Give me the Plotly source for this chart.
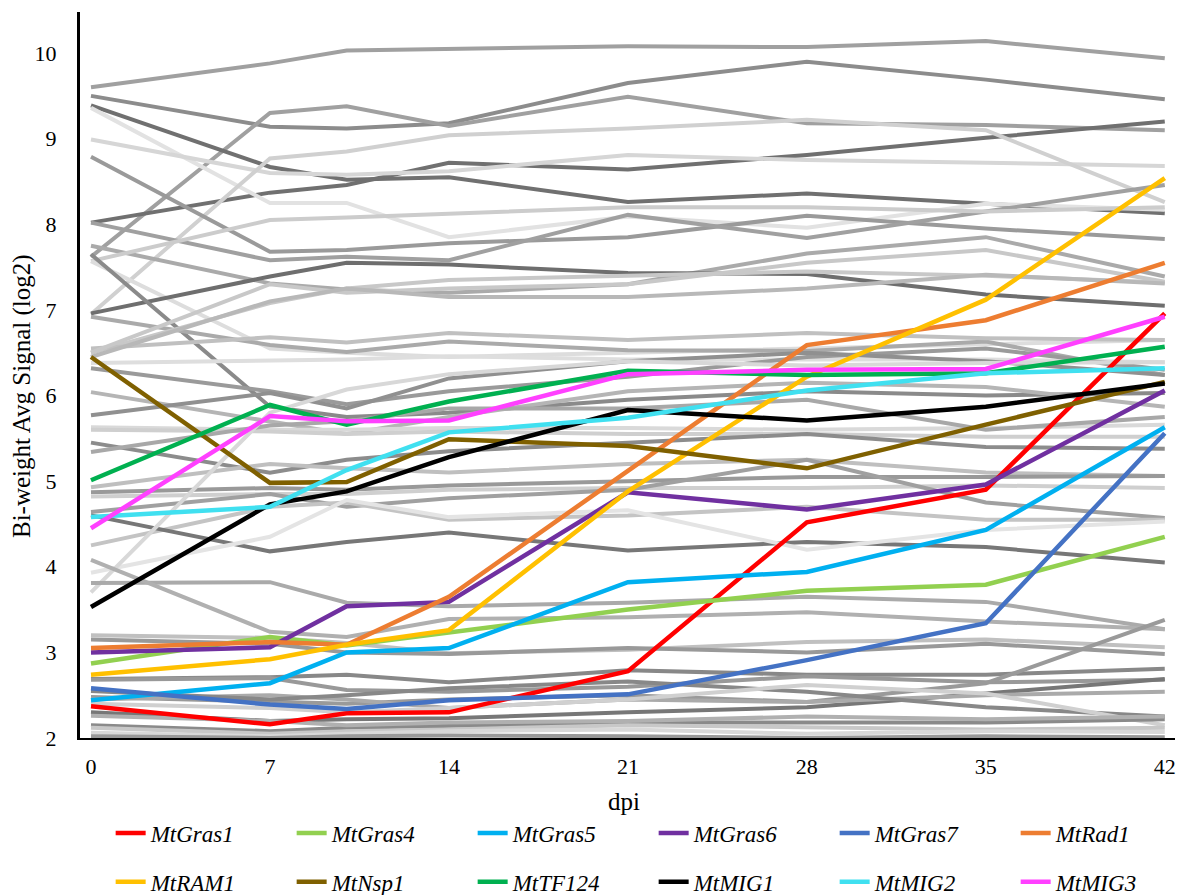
import plotly.graph_objects as go

dpi = [0, 7, 10, 14, 21, 28, 35, 42]
x_ticks = [0, 7, 14, 21, 28, 35, 42]
y_ticks = [2, 3, 4, 5, 6, 7, 8, 9, 10]

genes = ["MtGras1", "MtGras4", "MtGras5", "MtGras6", "MtGras7", "MtRad1",
         "MtRAM1", "MtNsp1", "MtTF124", "MtMIG1", "MtMIG2", "MtMIG3"]
MtGras1 = [2.37, 2.16, 2.29, 2.30, 2.78, 4.52, 4.90, 6.96]
MtGras4 = [2.87, 3.18, 3.08, 3.23, 3.50, 3.72, 3.79, 4.35]
MtGras5 = [2.44, 2.64, 3.00, 3.05, 3.82, 3.94, 4.43, 5.63]
MtGras6 = [3.00, 3.06, 3.54, 3.59, 4.87, 4.67, 4.96, 6.06]
MtGras7 = [2.58, 2.39, 2.34, 2.44, 2.51, 2.91, 3.34, 5.56]
MtRad1 = [3.05, 3.12, 3.09, 3.65, 5.12, 6.59, 6.88, 7.55]
MtRAM1 = [2.74, 2.92, 3.09, 3.26, 4.88, 6.22, 7.12, 8.54]
MtNsp1 = [6.45, 4.98, 4.99, 5.49, 5.41, 5.15, 5.66, 6.16]
MtTF124 = [5.01, 5.89, 5.66, 5.93, 6.29, 6.24, 6.26, 6.57]
MtMIG1 = [3.53, 4.73, 4.88, 5.28, 5.83, 5.71, 5.87, 6.14]
MtMIG2 = [4.58, 4.70, 5.13, 5.57, 5.74, 6.06, 6.26, 6.32]
MtMIG3 = [4.45, 5.76, 5.70, 5.71, 6.25, 6.30, 6.31, 6.92]
gene_values = [MtGras1, MtGras4, MtGras5, MtGras6, MtGras7, MtRad1,
               MtRAM1, MtNsp1, MtTF124, MtMIG1, MtMIG2, MtMIG3]
gene_colors = ["#FF0000", "#92D050", "#00B0F0", "#7030A0", "#4472C4", "#ED7D31",
               "#FFC000", "#7F6000", "#00B050", "#000000", "#40E0F0", "#FF40FF"]

# background (other GRAS genes) profiles, grey
gray_values = [
    [9.60, 9.88, 10.03, 10.05, 10.08, 10.07, 10.14, 9.94],
    [9.50, 9.14, 9.12, 9.18, 9.65, 9.90, 9.69, 9.46],
    [7.62, 9.30, 9.38, 9.15, 9.49, 9.18, 9.16, 9.10],
    [9.39, 8.67, 8.52, 8.55, 8.26, 8.36, 8.24, 8.13],
    [8.02, 8.37, 8.46, 8.72, 8.64, 8.81, 9.01, 9.20],
    [9.36, 8.25, 8.25, 7.85, 8.09, 7.96, 8.24, 8.17],
    [8.99, 8.60, 8.58, 8.62, 8.81, 8.75, 8.72, 8.68],
    [6.95, 8.77, 8.85, 9.04, 9.12, 9.22, 9.10, 8.26],
    [8.79, 7.68, 7.70, 7.78, 7.85, 8.10, 7.95, 7.83],
    [8.02, 7.58, 7.62, 7.58, 8.11, 7.84, 8.15, 8.46],
    [7.75, 7.31, 7.24, 7.20, 7.30, 7.66, 7.85, 7.39],
    [7.57, 8.05, 8.08, 8.12, 8.20, 8.20, 8.15, 8.20],
    [7.57, 6.55, 6.50, 6.45, 6.50, 6.55, 6.60, 6.65],
    [6.96, 7.39, 7.55, 7.53, 7.43, 7.42, 7.18, 7.05],
    [7.65, 5.87, 5.75, 5.80, 5.95, 6.05, 6.00, 6.03],
    [6.92, 6.59, 6.51, 6.63, 6.53, 6.52, 6.63, 6.24],
    [6.50, 7.08, 7.25, 7.35, 7.40, 7.45, 7.40, 7.32],
    [6.55, 6.68, 6.62, 6.73, 6.65, 6.73, 6.67, 6.65],
    [6.38, 6.40, 6.42, 6.46, 6.42, 6.42, 6.42, 6.39],
    [6.32, 6.05, 5.90, 6.05, 6.22, 6.45, 6.55, 6.30],
    [6.04, 5.70, 5.55, 5.75, 6.05, 6.15, 6.10, 5.87],
    [5.77, 6.03, 5.85, 6.20, 6.40, 6.50, 6.40, 6.24],
    [5.63, 5.60, 5.60, 5.62, 5.62, 5.60, 5.62, 5.66],
    [5.60, 5.58, 5.55, 5.58, 5.55, 5.55, 5.52, 5.52],
    [5.45, 5.10, 5.25, 5.35, 5.45, 5.55, 5.40, 5.38],
    [5.34, 5.65, 5.70, 5.85, 5.85, 5.95, 5.60, 5.75],
    [4.93, 5.20, 5.15, 5.10, 5.20, 5.25, 5.10, 5.06],
    [4.87, 4.92, 4.90, 4.95, 5.00, 5.05, 5.05, 5.06],
    [4.82, 4.85, 4.85, 4.90, 4.92, 4.92, 4.95, 4.92],
    [4.64, 4.85, 4.70, 4.80, 4.90, 5.25, 4.75, 4.57],
    [4.25, 4.70, 4.75, 4.55, 4.60, 4.70, 4.55, 4.55],
    [6.50, 7.30, 7.20, 7.25, 7.30, 7.55, 7.70, 7.33],
    [6.45, 7.10, 7.25, 7.15, 7.15, 7.25, 7.41, 7.31],
    [4.60, 4.18, 4.29, 4.40, 4.19, 4.29, 4.23, 4.05],
    [3.93, 4.35, 4.78, 4.58, 4.66, 4.20, 4.43, 4.53],
    [3.70, 5.80, 6.07, 6.25, 6.40, 6.35, 6.38, 6.39],
    [3.81, 3.82, 3.58, 3.54, 3.58, 3.65, 3.59, 3.27],
    [4.08, 3.24, 3.18, 3.39, 3.41, 3.47, 3.36, 3.27],
    [3.20, 3.17, 3.11, 2.99, 3.03, 3.12, 3.15, 3.06],
    [3.15, 3.10, 3.00, 2.98, 3.05, 3.00, 3.10, 2.98],
    [2.69, 2.71, 2.74, 2.65, 2.79, 2.74, 2.74, 2.81],
    [2.68, 2.70, 2.56, 2.54, 2.60, 2.72, 2.65, 2.68],
    [2.48, 2.42, 2.40, 2.45, 2.50, 2.42, 2.64, 3.38],
    [2.30, 2.20, 2.22, 2.23, 2.30, 2.36, 2.52, 2.69],
    [2.45, 2.50, 2.45, 2.35, 2.45, 2.42, 2.50, 2.54],
    [2.55, 2.45, 2.50, 2.58, 2.66, 2.54, 2.36, 2.25],
    [2.40, 2.35, 2.30, 2.35, 2.45, 2.62, 2.52, 2.15],
    [2.15, 2.08, 2.12, 2.14, 2.18, 2.18, 2.18, 2.22],
    [2.12, 2.05, 2.08, 2.10, 2.15, 2.12, 2.10, 2.12],
    [2.06, 2.02, 2.05, 2.08, 2.10, 2.05, 2.08, 2.07],
    [2.02, 2.00, 2.02, 2.03, 2.02, 2.00, 2.02, 2.01],
    [2.26, 2.20, 2.15, 2.18, 2.20, 2.25, 2.22, 2.25],
]
gray_colors = [
    "#a0a0a0", "#8c8c8c", "#a0a0a0", "#707070", "#707070", "#e2e2e2", "#d6d6d6",
    "#d0d0d0", "#9a9a9a", "#a0a0a0", "#aaaaaa", "#cccccc", "#dddddd", "#6e6e6e",
    "#8a8a8a", "#aaaaaa", "#c8c8c8", "#c0c0c0", "#dedede", "#9a9a9a", "#b5b5b5",
    "#909090", "#d9d9d9", "#cfcfcf", "#8c8c8c", "#a8a8a8", "#bfbfbf", "#999999",
    "#cfcfcf", "#a0a0a0", "#c4c4c4", "#c8c8c8", "#b8b8b8", "#777777", "#e4e4e4",
    "#d8d8d8", "#aaaaaa", "#b0b0b0", "#c0c0c0", "#999999", "#888888", "#999999",
    "#9a9a9a", "#777777", "#aaaaaa", "#888888", "#d0d0d0", "#8a8a8a", "#c8c8c8",
    "#d8d8d8", "#999999", "#b0b0b0",
]

FONT = "Liberation Serif, Times New Roman, serif"

fig = go.Figure()
for vals, col in zip(gray_values, gray_colors):
    fig.add_trace(go.Scatter(x=dpi, y=vals, mode="lines",
                             line=dict(color=col, width=4),
                             showlegend=False, hoverinfo="skip"))

for i, (name, vals, col) in enumerate(zip(genes, gene_values, gene_colors)):
    fig.add_trace(go.Scatter(x=dpi, y=vals, mode="lines", name=name,
                             line=dict(color=col, width=4.5),
                             legend="legend" if i < 6 else "legend2"))

leg_common = dict(orientation="h", xanchor="left", yanchor="middle",
                  entrywidth=136, entrywidthmode="pixels",
                  font=dict(family=FONT, size=23, color="black", style="italic"),
                  bgcolor="rgba(0,0,0,0)", itemwidth=30)

fig.update_layout(
    width=1179, height=895,
    margin=dict(l=80, r=4, t=12, b=157, autoexpand=False),
    paper_bgcolor="white", plot_bgcolor="white",
    font=dict(family=FONT, size=22, color="black"),
    xaxis=dict(range=[-0.43, 42.4], tickvals=x_ticks, ticktext=[str(v) for v in x_ticks],
               showgrid=False, zeroline=False, showline=True, linecolor="black",
               linewidth=2, ticks="", ticklabelstandoff=8,
               tickfont=dict(family=FONT, size=22, color="black")),
    yaxis=dict(range=[2, 10.48], tickvals=y_ticks, ticktext=[str(v) for v in y_ticks],
               showgrid=False, zeroline=False, showline=True, linecolor="black",
               linewidth=3, ticks="", ticklabelstandoff=16,
               tickfont=dict(family=FONT, size=22, color="black")),
    legend=dict(x=0.028, y=-0.131, **leg_common),
    legend2=dict(x=0.028, y=-0.198, **leg_common),
    annotations=[
        dict(text="Bi-weight Avg Signal (log2)", xref="paper", yref="paper",
             x=-0.053, y=0.471, textangle=-90, showarrow=False,
             font=dict(family=FONT, size=25, color="black"),
             xanchor="center", yanchor="middle"),
        dict(text="dpi", xref="paper", yref="paper", x=0.497, y=-0.088,
             showarrow=False, font=dict(family=FONT, size=25, color="black"),
             xanchor="center", yanchor="middle"),
    ],
)

fig.write_html("out.html", config={"displayModeBar": False},
               post_script="document.body.style.margin='0';")
